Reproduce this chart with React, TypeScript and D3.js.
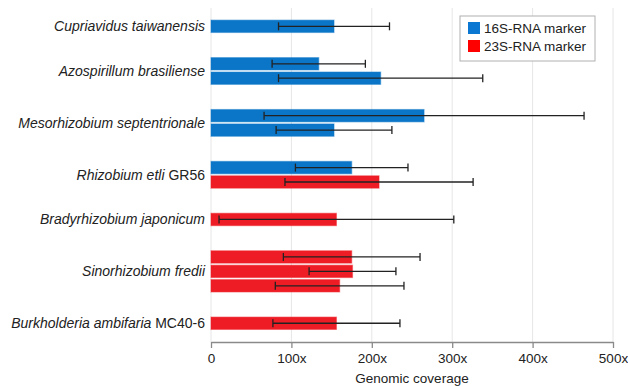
import { useEffect, useRef } from 'react'
import * as d3 from 'd3'

// species groups (top to bottom) and optional strain suffix
const species = [
  'Cupriavidus taiwanensis',
  'Azospirillum brasiliense',
  'Mesorhizobium septentrionale',
  'Rhizobium etli',
  'Bradyrhizobium japonicum',
  'Sinorhizobium fredii',
  'Burkholderia ambifaria',
]
const strains = ['', '', '', 'GR56', '', '', 'MC40-6']

// one entry per bar
const barGroup = [0, 1, 1, 2, 2, 3, 3, 4, 5, 5, 5, 6]
const barMarker = ['16S', '16S', '16S', '16S', '16S', '16S', '23S', '23S', '23S', '23S', '23S', '23S']
const coverage = [153, 134, 211, 265, 153, 175, 209, 156, 175, 176, 160, 156]
const errorHalf = [69, 58, 127, 199, 72, 70, 117, 146, 85, 54, 80, 79]

const xTicks = [0, 100, 200, 300, 400, 500]
const legendLabels = ['16S-RNA marker', '23S-RNA marker']
const markers = ['16S', '23S']

const W = 628
const H = 386
const FONT = '"Liberation Sans", Arial, Helvetica, sans-serif'

export default function App() {
  const svgRef = useRef(null)

  useEffect(() => {
    const svg = d3.select(svgRef.current)
    svg.selectAll('*').remove()

    const groupGap = 1.6 // extra row units between groups
    const unitOf = (i: number) => i + barGroup[i] * groupGap
    const lastUnit = unitOf(coverage.length - 1)

    const x = d3.scaleLinear().domain([0, 500]).range([211, 613])
    const y = d3.scaleLinear().domain([-1.27, lastUnit + 1.3]).range([8, 342])
    const step = y(1) - y(0)
    const barH = step * 0.855

    const barColor = d3.scaleOrdinal<string, string>().domain(markers).range(['#0b76c8', '#ee1d25'])
    const legendColor = d3.scaleOrdinal<string, string>().domain(markers).range(['#0a78d2', '#ff0000'])

    // gridlines
    svg.append('g')
      .selectAll('line')
      .data(xTicks)
      .join('line')
      .attr('x1', d => x(d))
      .attr('x2', d => x(d))
      .attr('y1', y.range()[0])
      .attr('y2', y.range()[1])
      .attr('stroke', '#e6e6e6')
      .attr('stroke-width', 1)

    // axis
    const axis = svg.append('g')
      .attr('transform', `translate(0,${y.range()[1]})`)
      .call(d3.axisBottom(x).tickValues(xTicks).tickSize(6).tickSizeOuter(0).tickPadding(5)
        .tickFormat(d => (d === 0 ? '0' : `${d}x`)))
    axis.select('.domain').attr('stroke', '#8a8a8a').attr('stroke-width', 1.3)
    axis.selectAll('.tick line').attr('stroke', '#8a8a8a').attr('stroke-width', 1.3)
    axis.selectAll('.tick text')
      .attr('fill', '#222')
      .style('font-family', FONT)
      .style('font-size', '13.5px')

    svg.append('text')
      .attr('x', (x(0) + x(500)) / 2)
      .attr('y', 383)
      .attr('text-anchor', 'middle')
      .attr('fill', '#222')
      .style('font-family', FONT)
      .style('font-size', '13.5px')
      .text('Genomic coverage')

    const idx = d3.range(coverage.length)

    // bars
    svg.append('g')
      .selectAll('rect')
      .data(idx)
      .join('rect')
      .attr('x', x(0))
      .attr('y', i => y(unitOf(i)) - barH / 2)
      .attr('width', i => x(coverage[i]) - x(0))
      .attr('height', barH)
      .attr('fill', i => barColor(barMarker[i]))
      .attr('stroke', i => barColor(barMarker[i]))
      .attr('stroke-opacity', 0.45)
      .attr('stroke-width', 1.2)

    // error bars
    const err = svg.append('g')
      .attr('stroke', '#222')
      .attr('stroke-width', 1.3)
    err.selectAll('line.h')
      .data(idx)
      .join('line')
      .attr('class', 'h')
      .attr('x1', i => x(coverage[i] - errorHalf[i]))
      .attr('x2', i => x(coverage[i] + errorHalf[i]))
      .attr('y1', i => y(unitOf(i)))
      .attr('y2', i => y(unitOf(i)))
    const caps = idx.flatMap(i => [coverage[i] - errorHalf[i], coverage[i] + errorHalf[i]].map(v => ({ i, v })))
    err.selectAll('line.cap')
      .data(caps)
      .join('line')
      .attr('class', 'cap')
      .attr('x1', d => x(d.v))
      .attr('x2', d => x(d.v))
      .attr('y1', d => y(unitOf(d.i)) - 4)
      .attr('y2', d => y(unitOf(d.i)) + 4)

    // group labels
    const groupCenters = species.map((_, g) => {
      const rows = idx.filter(i => barGroup[i] === g)
      return d3.mean(rows, i => y(unitOf(i))) as number
    })
    const labels = svg.append('g')
      .selectAll('text')
      .data(species)
      .join('text')
      .attr('x', 205)
      .attr('y', (_, g) => groupCenters[g])
      .attr('dy', '0.35em')
      .attr('text-anchor', 'end')
      .attr('fill', '#222')
      .style('font-family', FONT)
      .style('font-size', '14px')
    labels.append('tspan')
      .style('font-style', 'italic')
      .text(d => d)
    labels.append('tspan')
      .text((_, g) => (strains[g] ? ` ${strains[g]}` : ''))

    // legend
    const legend = svg.append('g').attr('transform', 'translate(460,16)')
    legend.append('rect')
      .attr('width', 135)
      .attr('height', 45)
      .attr('fill', '#fff')
      .attr('stroke', '#b0b0b0')
      .attr('stroke-width', 1)
    const items = legend.selectAll('g.item')
      .data(markers)
      .join('g')
      .attr('class', 'item')
      .attr('transform', (_, k) => `translate(8,${6 + k * 18})`)
    items.append('rect')
      .attr('width', 12)
      .attr('height', 12)
      .attr('fill', d => legendColor(d))
    items.append('text')
      .attr('x', 16)
      .attr('y', 6)
      .attr('dy', '0.36em')
      .attr('fill', '#222')
      .style('font-family', FONT)
      .style('font-size', '13.5px')
      .text((_, k) => legendLabels[k])
  }, [])

  return (
    <svg
      ref={svgRef}
      width={W}
      height={H}
      style={{ position: 'absolute', left: 0, top: 0, background: '#fff' }}
    />
  )
}
